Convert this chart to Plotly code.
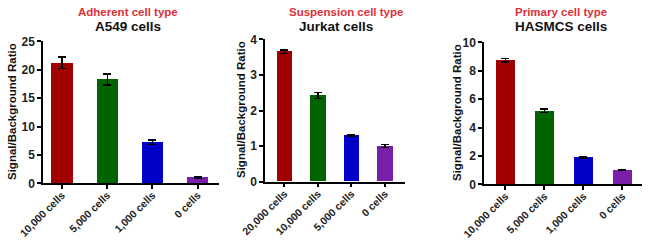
import plotly.graph_objects as go

W, H = 650, 240

colors = ["#a00000", "#006400", "#0000c8", "#7a1fa8"]

cats1 = ["10,000 cells", "5,000 cells", "1,000 cells", "0 cells"]
vals1 = [21.2, 18.3, 7.2, 1.05]
errs1 = [1.0, 0.95, 0.4, 0.08]

cats2 = ["20,000 cells", "10,000 cells", "5,000 cells", "0 cells"]
vals2 = [3.65, 2.42, 1.31, 1.0]
errs2 = [0.05, 0.08, 0.02, 0.04]

cats3 = ["10,000 cells", "5,000 cells", "1,000 cells", "0 cells"]
vals3 = [8.75, 5.17, 1.92, 0.99]
errs3 = [0.12, 0.12, 0.05, 0.03]

red_titles = ["Adherent cell type", "Suspension cell type", "Primary cell type"]
black_titles = ["A549 cells", "Jurkat cells", "HASMCS cells"]
y_title = "Signal/Background Ratio"

yranges = [[0, 25], [0, 4], [0, 10]]
ydticks = [5, 1, 2]

# layout in pixels
xdom_px = [(43, 219), (265, 405), (484, 642)]
ydom_px = [(41.3, 183.3), (39.3, 181.7), (42.3, 184.3)]
xranges = [[-0.42, 3.47], [-0.58, 3.6], [-0.55, 3.5]]
ytitle_x = [12, 241, 457]
ytitle_cy = [112, 110, 113]
red_cx = [128, 346, 561]
black_cx = [128, 336, 561]

font = "Liberation Sans, Arial, sans-serif"

fig = go.Figure()
data = [(cats1, vals1, errs1), (cats2, vals2, errs2), (cats3, vals3, errs3)]

for i, (c, v, e) in enumerate(data):
    xa = "x" if i == 0 else f"x{i+1}"
    ya = "y" if i == 0 else f"y{i+1}"
    fig.add_trace(go.Bar(
        x=list(range(len(c))), y=v,
        marker=dict(color=colors, line=dict(width=0)),
        width=0.47,
        error_y=dict(type="data", array=e, visible=True, color="black",
                     thickness=1.5, width=4),
        xaxis=xa, yaxis=ya, showlegend=False,
    ))
    xk = "xaxis" if i == 0 else f"xaxis{i+1}"
    yk = "yaxis" if i == 0 else f"yaxis{i+1}"
    x0, x1 = xdom_px[i]
    yt, yb = ydom_px[i]
    fig.update_layout(**{
        xk: dict(domain=[x0 / W, x1 / W], range=xranges[i], anchor=ya,
                 automargin=False, ticklabelstandoff=-4,
                 tickmode="array", tickvals=list(range(len(c))), ticktext=c,
                 tickangle=-45, showline=True, linecolor="black", linewidth=1.5,
                 ticks="outside", ticklen=4, tickwidth=1.5, tickcolor="black",
                 showgrid=False, zeroline=False,
                 tickfont=dict(family=font, size=10.5, color="#222", weight="bold")),
        yk: dict(domain=[1 - yb / H, 1 - yt / H], range=yranges[i], anchor=xa,
                 automargin=False,
                 dtick=ydticks[i], showline=True, linecolor="black", linewidth=1.5,
                 ticks="outside", ticklen=4, tickwidth=1.5, tickcolor="black",
                 showgrid=False, zeroline=False,
                 tickfont=dict(family=font, size=12, color="#222", weight="bold")),
    })
    fig.add_annotation(x=red_cx[i] / W, y=1 - 12 / H, xref="paper", yref="paper",
                       xanchor="center", yanchor="middle",
                       text=red_titles[i], showarrow=False,
                       font=dict(family=font, size=11.5, color="#e0303a", weight="bold"))
    fig.add_annotation(x=black_cx[i] / W, y=1 - 26 / H, xref="paper", yref="paper",
                       xanchor="center", yanchor="middle",
                       text=black_titles[i], showarrow=False,
                       font=dict(family=font, size=13.5, color="#111", weight="bold"))
    fig.add_annotation(x=ytitle_x[i] / W, y=1 - ytitle_cy[i] / H, xref="paper", yref="paper",
                       xanchor="center", yanchor="middle",
                       text=y_title, showarrow=False, textangle=-90,
                       font=dict(family=font, size=11.5, color="#111", weight="bold"))

fig.update_layout(width=W, height=H, margin=dict(l=0, r=0, t=0, b=0, autoexpand=False),
                  plot_bgcolor="white", paper_bgcolor="white", bargap=0)

fig.write_html("out.html")
